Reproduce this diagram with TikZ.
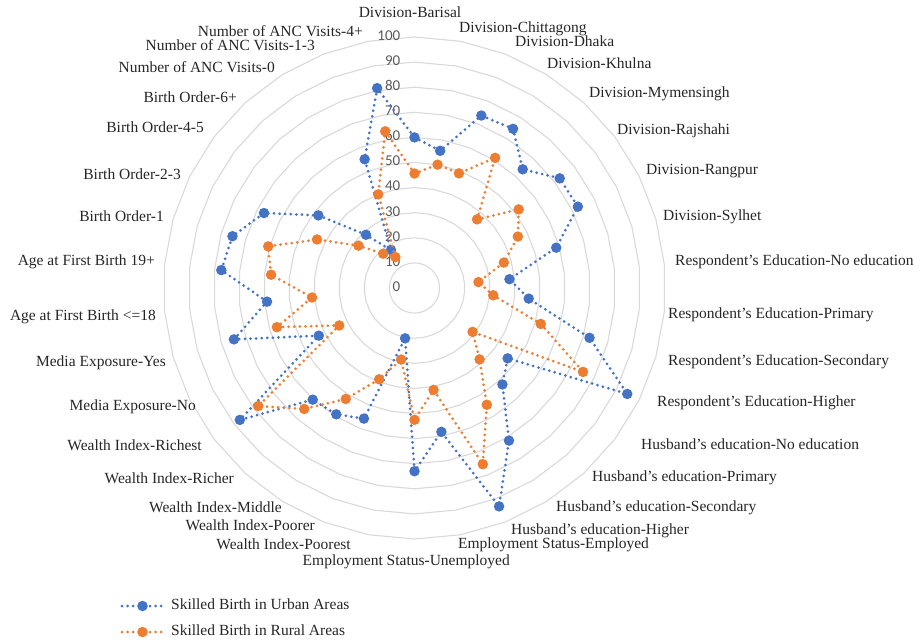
\documentclass[tikz,border=0pt]{standalone}
\usepackage{fontspec}
\setmainfont{Liberation Serif}
\newfontfamily\axisfont{Carlito}
\definecolor{ublue}{HTML}{4472C4}
\definecolor{rorange}{HTML}{ED7D31}
\definecolor{gridc}{HTML}{D9D9D9}
\definecolor{axc}{HTML}{595959}
\definecolor{labc}{HTML}{262626}
\begin{document}
\begin{tikzpicture}[x=1pt,y=-1pt,
  gridring/.style={draw=gridc, line width=1.1pt},
  axlab/.style={font=\axisfont\fontsize{15}{18}\selectfont, text=axc, inner sep=0pt, anchor=mid east},
  catR/.style={font=\fontsize{15.5}{18}\selectfont, text=labc, inner sep=0pt, anchor=mid west},
  catL/.style={font=\fontsize{15.5}{18}\selectfont, text=labc, inner sep=0pt, anchor=mid east},
  catC/.style={font=\fontsize{15.5}{18}\selectfont, text=labc, inner sep=0pt, anchor=mid},
  serline/.style={line width=3pt, line cap=round, dash pattern=on 0pt off 5.6pt},
  umark/.style={circle, fill=ublue, inner sep=0pt, minimum size=10.5pt},
  rmark/.style={circle, fill=rorange, inner sep=0pt, minimum size=10.5pt},
  leg/.style={font=\fontsize{15.5}{18}\selectfont, text=labc, inner sep=0pt, anchor=mid west}
]
\useasboundingbox (0,0) rectangle (922,641);
\def\cx{414.5}
\def\cy{288}
\def\un{2.51}
% grid rings
\foreach \k in {1,...,10}{
  \draw[gridring] (\cx,{\cy-25.1*\k})
    \foreach \i in {1,...,33}{ -- ({\cx+25.1*\k*sin(\i*360/34)},{\cy-25.1*\k*cos(\i*360/34)}) } -- cycle;
}
% axis labels
\foreach \t [count=\k from 0] in {0,10,20,30,40,50,60,70,80,90,100}{
  \node[axlab] (ax\k) at (400.5,{\cy-25.1*\k+1}) {\t};
}
% category labels
\node[catC] (c0) at (410,15.5) {Division-Barisal};
\node[catR] (c1) at (459,30.5) {Division-Chittagong};
\node[catR] (c2) at (515,44.5) {Division-Dhaka};
\node[catR] (c3) at (547,66.5) {Division-Khulna};
\node[catR] (c4) at (589,95.5) {Division-Mymensingh};
\node[catR] (c5) at (617,132.5) {Division-Rajshahi};
\node[catR] (c6) at (646,172.5) {Division-Rangpur};
\node[catR] (c7) at (663,218.5) {Division-Sylhet};
\node[catR] (c8) at (675,263.5) {Respondent’s Education-No education};
\node[catR] (c9) at (668,316.5) {Respondent’s Education-Primary};
\node[catR] (c10) at (668,363.5) {Respondent’s Education-Secondary};
\node[catR] (c11) at (657,404.5) {Respondent’s Education-Higher};
\node[catR] (c12) at (641,447.5) {Husband’s education-No education};
\node[catR] (c13) at (592,479.5) {Husband’s education-Primary};
\node[catR] (c14) at (556,509.5) {Husband’s education-Secondary};
\node[catR] (c15) at (511,532) {Husband’s education-Higher};
\node[catR] (c16) at (458,546) {Employment Status-Employed};
\node[catL] (c17) at (510,563.5) {Employment Status-Unemployed};
\node[catL] (c18) at (351,547.5) {Wealth Index-Poorest};
\node[catL] (c19) at (315,528.5) {Wealth Index-Poorer};
\node[catL] (c20) at (282,510.5) {Wealth Index-Middle};
\node[catL] (c21) at (234,481.5) {Wealth Index-Richer};
\node[catL] (c22) at (202,448.5) {Wealth Index-Richest};
\node[catL] (c23) at (196,408.5) {Media Exposure-No};
\node[catL] (c24) at (166,364.5) {Media Exposure-Yes};
\node[catL] (c25) at (156,318.5) {Age at First Birth <=18};
\node[catL] (c26) at (155,263.5) {Age at First Birth 19+};
\node[catL] (c27) at (164,219.5) {Birth Order-1};
\node[catL] (c28) at (181,177.5) {Birth Order-2-3};
\node[catL] (c29) at (204,130.5) {Birth Order-4-5};
\node[catL] (c30) at (237,100.5) {Birth Order-6+};
\node[catL] (c31) at (275,70.5) {Number of ANC Visits-0};
\node[catL] (c32) at (315,48.5) {Number of ANC Visits-1-3};
\node[catL] (c33) at (363,34.5) {Number of ANC Visits-4+};
% data coordinates
\foreach \v [count=\j from 0] in {60,55.6,73.7,74.6,64,72.5,72.7,58.7,38,45.7,72.5,94.7,46.5,52,71.5,93.3,58.3,73,20.4,55.8,59.2,60.2,87.2,42.6,74.8,59,77.3,75.4,67,48,28.7,17.8,55,81}{
  \coordinate (u\j) at ({\cx+\un*\v*sin(\j*360/34)},{\cy-\un*\v*cos(\j*360/34)});
}
\foreach \v [count=\j from 0] in {45.6,50,49,61,37,52,46,37,25.6,31.5,52.3,75,29,38.5,54.7,75.3,41.3,52.5,29,39,52,65.2,78,33.5,57,41,57.4,60.6,43.4,28,18.5,14.5,40,63.5}{
  \coordinate (r\j) at ({\cx+\un*\v*sin(\j*360/34)},{\cy-\un*\v*cos(\j*360/34)});
}
% urban series
\draw[serline, ublue] (u0) \foreach \i in {1,...,33}{ -- (u\i) } -- cycle;
\foreach \i in {0,...,33}{ \node[umark] (U\i) at (u\i) {}; }
% rural series
\draw[serline, rorange] (r0) \foreach \i in {1,...,33}{ -- (r\i) } -- cycle;
\foreach \i in {0,...,33}{ \node[rmark] (R\i) at (r\i) {}; }
% legend
\coordinate (lua) at (122,606);
\coordinate (lub) at (163,606);
\draw[serline, ublue] (lua) -- (lub);
\node[umark] (lum) at (142.5,606) {};
\node[leg] (lut) at (171,607) {Skilled Birth in Urban Areas};
\coordinate (lra) at (122,632);
\coordinate (lrb) at (163,632);
\draw[serline, rorange] (lra) -- (lrb);
\node[rmark] (lrm) at (142.5,632) {};
\node[leg] (lrt) at (171,633) {Skilled Birth in Rural Areas};
\end{tikzpicture}
\end{document}
